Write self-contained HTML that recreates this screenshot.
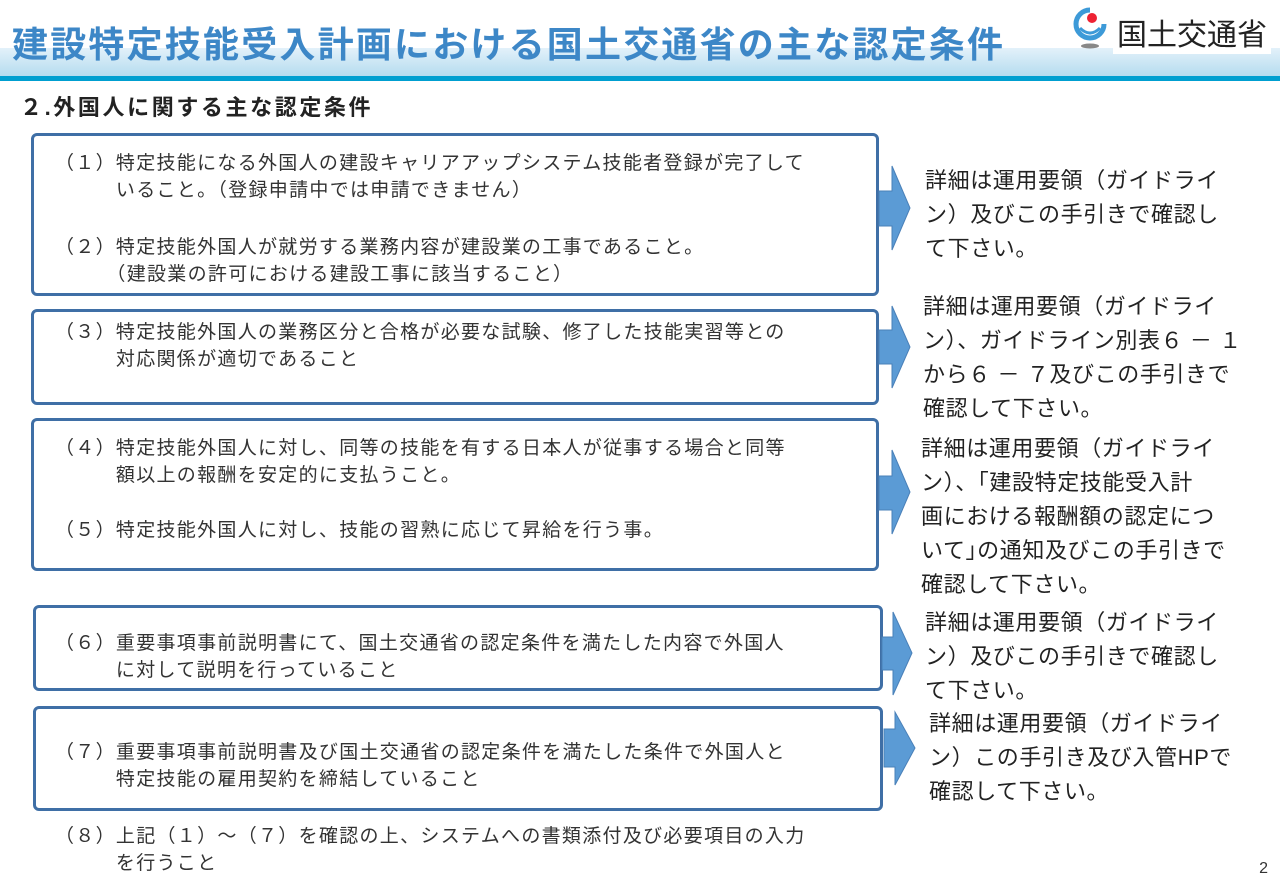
<!DOCTYPE html>
<html><head><meta charset="utf-8"><style>
*{margin:0;padding:0;box-sizing:border-box}
body{width:1280px;height:890px;background:#fff;position:relative;overflow:hidden;font-family:"Liberation Sans","Noto Sans CJK JP",sans-serif;color:#333}
.hb{position:absolute;left:0;top:48px;width:1280px;height:28px;background:linear-gradient(#e3f1fa,#b5dcef)}
.hl{position:absolute;left:0;top:76px;width:1280px;height:5px;background:#009fd0}
.title{position:absolute;left:12px;top:16px;font-size:36px;font-weight:bold;color:#3d87c7;white-space:nowrap;letter-spacing:2.2px}
.logo{position:absolute;left:1113px;top:10px;font-size:30px;color:#222;white-space:nowrap;background:#fff;padding:0 4px}
.sub{position:absolute;left:20px;top:90px;font-size:22px;font-weight:bold;color:#222;letter-spacing:2.6px}
.box{position:absolute;border:3px solid #3f6fa6;border-radius:6px}
.t{position:absolute;font-size:19px;line-height:27px;color:#333;white-space:nowrap;letter-spacing:1.3px}
.r{position:absolute;font-size:22px;line-height:34px;color:#222;white-space:nowrap;letter-spacing:0.6px}
.pg{position:absolute;right:12px;top:860px;font-size:16px}
</style></head><body>
<div class="hb"></div><div class="hl"></div>
<div class="title">建設特定技能受入計画における国土交通省の主な認定条件</div>
<div class="logo">国土交通省</div>
<svg style="position:absolute;left:1070px;top:6px" width="40" height="46"><path d="M20 4 A14 14 0 1 0 34 18" fill="none" stroke="#3d9ad8" stroke-width="5"/><circle cx="22" cy="12" r="5" fill="#e23"/><path d="M10 22 Q20 32 30 22" fill="none" stroke="#3d9ad8" stroke-width="3"/><ellipse cx="20" cy="40" rx="9" ry="2.5" fill="#888"/></svg>
<div class="sub">２.外国人に関する主な認定条件</div>

<div class="box" style="left:31px;top:133px;width:848px;height:163px"></div>
<div class="box" style="left:31px;top:309px;width:848px;height:96px"></div>
<div class="box" style="left:31px;top:418px;width:848px;height:153px"></div>
<div class="box" style="left:33px;top:605px;width:850px;height:86px"></div>
<div class="box" style="left:33px;top:706px;width:850px;height:105px"></div>

<svg style="position:absolute;left:0;top:0" width="1280" height="890">
<g fill="#5b9bd5" stroke="#4a80b8" stroke-width="1">
<polygon points="879,191 892,191 892,166 910,208 892,250 892,226 879,226"/>
<polygon points="879,330 892,330 892,306 910,347 892,388 892,364 879,364"/>
<polygon points="879,476 892,476 892,450 910,492 892,534 892,510 879,510"/>
<polygon points="882,637 893,637 893,612 912,653 893,695 893,670 882,670"/>
<polygon points="884,729 895,729 895,712 915,748 895,785 895,767 884,767"/>
</g></svg>

<div class="t" style="left:55px;top:150px">（１）特定技能になる外国人の建設キャリアアップシステム技能者登録が完了して<br>　　　いること。（登録申請中では申請できません）</div>
<div class="t" style="left:55px;top:234px">（２）特定技能外国人が就労する業務内容が建設業の工事であること。<br>　　　（建設業の許可における建設工事に該当すること）</div>
<div class="t" style="left:55px;top:319px">（３）特定技能外国人の業務区分と合格が必要な試験、修了した技能実習等との<br>　　　対応関係が適切であること</div>
<div class="t" style="left:55px;top:435px">（４）特定技能外国人に対し、同等の技能を有する日本人が従事する場合と同等<br>　　　額以上の報酬を安定的に支払うこと。</div>
<div class="t" style="left:55px;top:517px">（５）特定技能外国人に対し、技能の習熟に応じて昇給を行う事。</div>
<div class="t" style="left:55px;top:630px">（６）重要事項事前説明書にて、国土交通省の認定条件を満たした内容で外国人<br>　　　に対して説明を行っていること</div>
<div class="t" style="left:55px;top:739px">（７）重要事項事前説明書及び国土交通省の認定条件を満たした条件で外国人と<br>　　　特定技能の雇用契約を締結していること</div>
<div class="t" style="left:55px;top:823px">（８）上記（１）～（７）を確認の上、システムへの書類添付及び必要項目の入力<br>　　　を行うこと</div>

<div class="r" style="left:925px;top:164px">詳細は運用要領（ガイドライ<br>ン）及びこの手引きで確認し<br>て下さい。</div>
<div class="r" style="left:923px;top:290px">詳細は運用要領（ガイドライ<br>ン）、ガイドライン別表６ － １<br>から６ － ７及びこの手引きで<br>確認して下さい。</div>
<div class="r" style="left:921px;top:432px">詳細は運用要領（ガイドライ<br>ン）、｢建設特定技能受入計<br>画における報酬額の認定につ<br>いて｣の通知及びこの手引きで<br>確認して下さい。</div>
<div class="r" style="left:925px;top:606px">詳細は運用要領（ガイドライ<br>ン）及びこの手引きで確認し<br>て下さい。</div>
<div class="r" style="left:929px;top:707px">詳細は運用要領（ガイドライ<br>ン）この手引き及び入管HPで<br>確認して下さい。</div>
<div class="pg">2</div>
</body></html>
